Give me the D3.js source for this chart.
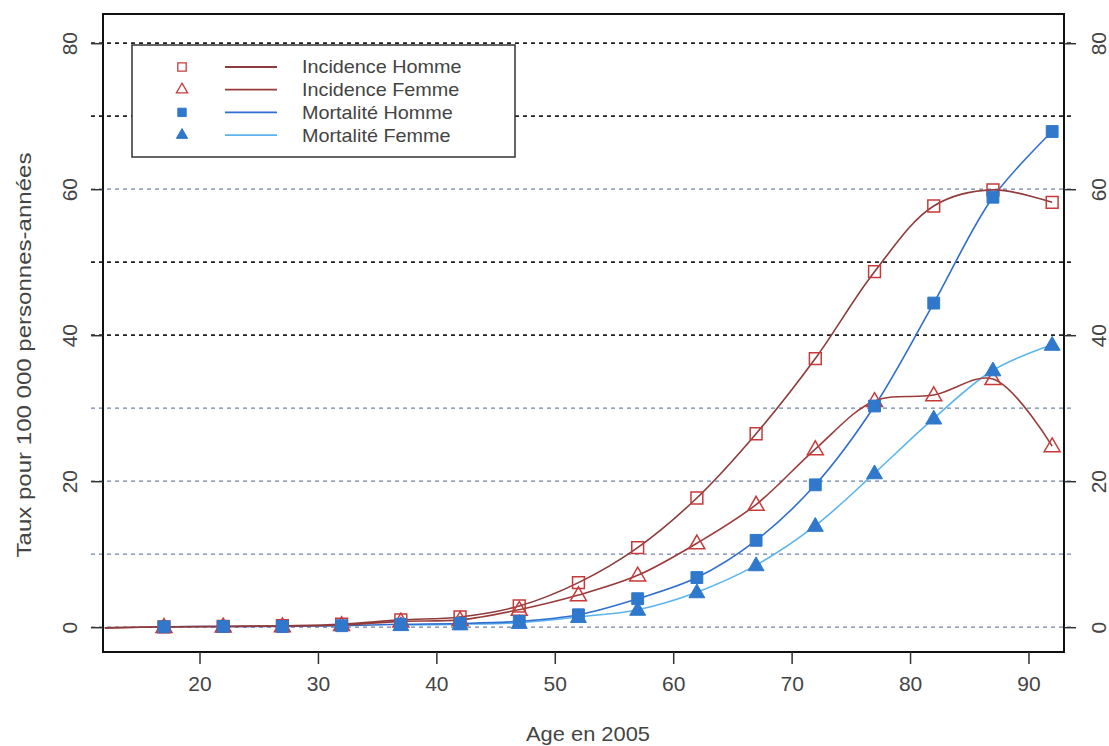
<!DOCTYPE html>
<html>
<head>
<meta charset="utf-8">
<script src="https://cdn.jsdelivr.net/npm/d3@7"></script>
<style>
  body { margin: 0; background: #fff; }
  text { font-family: "Liberation Sans", Arial, sans-serif; fill: #444; }
</style>
</head>
<body>
<div id="chart"></div>
<script>
// ages (class midpoints), the 12 point is only drawn as line (no marker)
var ages = [12, 17, 22, 27, 32, 37, 42, 47, 52, 57, 62, 67, 72, 77, 82, 87, 92];
var incidenceHomme = [-0.1, 0.05, 0.1, 0.2, 0.4, 1.0, 1.4, 2.9, 6.1, 10.9, 17.7, 26.5, 36.8, 48.7, 57.7, 59.9, 58.2];
var incidenceFemme = [-0.1, 0.05, 0.1, 0.15, 0.3, 0.8, 1.0, 2.4, 4.4, 7.1, 11.5, 16.8, 24.4, 31.0, 31.8, 34.0, 24.8];
var mortaliteHomme = [null, 0.05, 0.1, 0.1, 0.2, 0.4, 0.5, 0.8, 1.7, 3.9, 6.8, 11.9, 19.5, 30.3, 44.4, 58.9, 67.9];
var mortaliteFemme = [null, null, null, null, null, 0.3, 0.4, 0.6, 1.4, 2.4, 4.8, 8.5, 13.9, 21.1, 28.6, 35.2, 38.7];
var seriesNames = ["Incidence Homme", "Incidence Femme", "Mortalité Homme", "Mortalité Femme"];
var xTicks = [20, 30, 40, 50, 60, 70, 80, 90];
var yTicks = [0, 20, 40, 60, 80];
var gridLevels = [0, 10, 20, 30, 40, 50, 60, 70, 80];
var firstMarkerAge = 17;

var width = 1109, height = 746,
    margin = {top: 14, right: 45, bottom: 94, left: 103};

var series = [
  {name: seriesNames[0], values: incidenceHomme, line: "#8e3b3b", mark: "square", fill: "none", stroke: "#c83a3a"},
  {name: seriesNames[1], values: incidenceFemme, line: "#9a3b3b", mark: "triangle", fill: "none", stroke: "#c83a3a"},
  {name: seriesNames[2], values: mortaliteHomme, line: "#2f6fcf", mark: "square", fill: "#2f78cc", stroke: "#2f78cc"},
  {name: seriesNames[3], values: mortaliteFemme, line: "#5cb4ee", mark: "triangle", fill: "#2f78cc", stroke: "#2f78cc"}
];

var svg = d3.select("#chart").append("svg")
  .attr("width", width)
  .attr("height", height);

var x = d3.scaleLinear().domain([11.85, 93.0]).range([margin.left, width - margin.right]);
var y = d3.scaleLinear().domain([-3.4, 84.0]).range([height - margin.bottom, margin.top]);

// dotted grid lines (some darker, like the scan)
var darkLevels = [40, 50, 70, 80];
svg.append("g").selectAll("line")
  .data(gridLevels)
  .enter().append("line")
  .attr("x1", margin.left - 12)
  .attr("x2", width - margin.right + 10)
  .attr("y1", d => y(d))
  .attr("y2", d => y(d))
  .attr("stroke", d => darkLevels.includes(d) ? "#222" : "#6f84a6")
  .attr("stroke-width", d => darkLevels.includes(d) ? 1.8 : 1.2)
  .attr("stroke-dasharray", "4,4");

// frame
svg.append("rect")
  .attr("x", margin.left)
  .attr("y", margin.top)
  .attr("width", width - margin.left - margin.right)
  .attr("height", height - margin.top - margin.bottom)
  .attr("fill", "none")
  .attr("stroke", "#111")
  .attr("stroke-width", 2);

// X axis
var xAxis = d3.axisBottom(x).tickValues(xTicks).tickSize(12).tickSizeOuter(0).tickPadding(12);
var gx = svg.append("g")
  .attr("transform", `translate(0,${height - margin.bottom})`)
  .call(xAxis);
gx.select(".domain").remove();
gx.selectAll(".tick line").attr("stroke", "#333").attr("stroke-width", 1.5);
gx.selectAll(".tick text").style("font-size", "21px").attr("fill", "#444");

// Y axes left & right, labels rotated
var yAxisL = d3.axisLeft(y).tickValues(yTicks).tickSize(12).tickSizeOuter(0);
var gyl = svg.append("g")
  .attr("transform", `translate(${margin.left},0)`)
  .call(yAxisL);
gyl.select(".domain").remove();
gyl.selectAll(".tick line").attr("stroke", "#333").attr("stroke-width", 1.5);
gyl.selectAll(".tick text")
  .style("font-size", "21px").attr("fill", "#444")
  .attr("text-anchor", "middle")
  .attr("x", 0).attr("dy", 0)
  .attr("transform", "translate(-26,0) rotate(-90)");

var yAxisR = d3.axisRight(y).tickValues(yTicks).tickSize(12).tickSizeOuter(0);
var gyr = svg.append("g")
  .attr("transform", `translate(${width - margin.right},0)`)
  .call(yAxisR);
gyr.select(".domain").remove();
gyr.selectAll(".tick line").attr("stroke", "#333").attr("stroke-width", 1.5);
gyr.selectAll(".tick text")
  .style("font-size", "21px").attr("fill", "#444")
  .attr("text-anchor", "middle")
  .attr("x", 0).attr("dy", 0)
  .attr("transform", "translate(42,0) rotate(-90)");

// axis titles
svg.append("text")
  .attr("x", 588)
  .attr("y", 741)
  .attr("text-anchor", "middle")
  .style("font-size", "21px")
  .attr("textLength", 124)
  .attr("lengthAdjust", "spacingAndGlyphs")
  .text("Age en 2005");

svg.append("text")
  .attr("transform", `translate(31,${(margin.top + height - margin.bottom) / 2 + 22}) rotate(-90)`)
  .attr("text-anchor", "middle")
  .style("font-size", "21px")
  .attr("textLength", 405)
  .attr("lengthAdjust", "spacingAndGlyphs")
  .text("Taux pour 100 000 personnes-années");

// lines
var line = d3.line()
  .defined(d => d[1] != null)
  .x(d => x(d[0]))
  .y(d => y(d[1]))
  .curve(d3.curveCatmullRom.alpha(0.5));

var markSquare = d3.symbol().type(d3.symbolSquare).size(140);
var markTriangle = d3.symbol().type(d3.symbolTriangle).size(110);

series.slice().reverse().forEach(s => {
  var pts = ages.map((a, i) => [a, s.values[i]]);
  svg.append("path")
    .datum(pts)
    .attr("fill", "none")
    .attr("stroke", s.line)
    .attr("stroke-width", 1.6)
    .attr("d", line);
});

series.forEach(s => {
  var pts = ages.map((a, i) => [a, s.values[i]]).filter(d => d[1] != null && d[0] >= firstMarkerAge);
  svg.append("g").selectAll("path")
    .data(pts)
    .enter().append("path")
    .attr("transform", d => `translate(${x(d[0])},${y(d[1]) + (s.mark === "triangle" ? 1 : 0)})`)
    .attr("d", s.mark === "square" ? markSquare : markTriangle)
    .attr("fill", s.fill)
    .attr("stroke", s.stroke)
    .attr("stroke-width", s.fill === "none" ? 1.5 : 1);
});

// legend
var lg = svg.append("g").attr("transform", "translate(132,45)");
lg.append("rect")
  .attr("width", 383).attr("height", 112)
  .attr("fill", "#fff").attr("stroke", "#333").attr("stroke-width", 1.5);

var legendMarkSquare = d3.symbol().type(d3.symbolSquare).size(70);
var legendMarkTriangle = d3.symbol().type(d3.symbolTriangle).size(55);

series.forEach((s, i) => {
  var row = lg.append("g").attr("transform", `translate(0,${22 + i * 22.7})`);
  row.append("path")
    .attr("transform", "translate(50,0)")
    .attr("d", s.mark === "square" ? legendMarkSquare : legendMarkTriangle)
    .attr("fill", s.fill)
    .attr("stroke", s.stroke)
    .attr("stroke-width", s.fill === "none" ? 1.3 : 1);
  row.append("line")
    .attr("x1", 93).attr("x2", 145)
    .attr("stroke", s.line).attr("stroke-width", 1.8);
  var t = row.append("text")
    .attr("x", 170).attr("dy", "0.35em")
    .style("font-size", "18.5px")
    .text(s.name);
  // the scan is a bit stretched horizontally
  var w = t.node().getComputedTextLength();
  t.attr("textLength", w * 1.07).attr("lengthAdjust", "spacingAndGlyphs");
});
</script>
</body>
</html>
